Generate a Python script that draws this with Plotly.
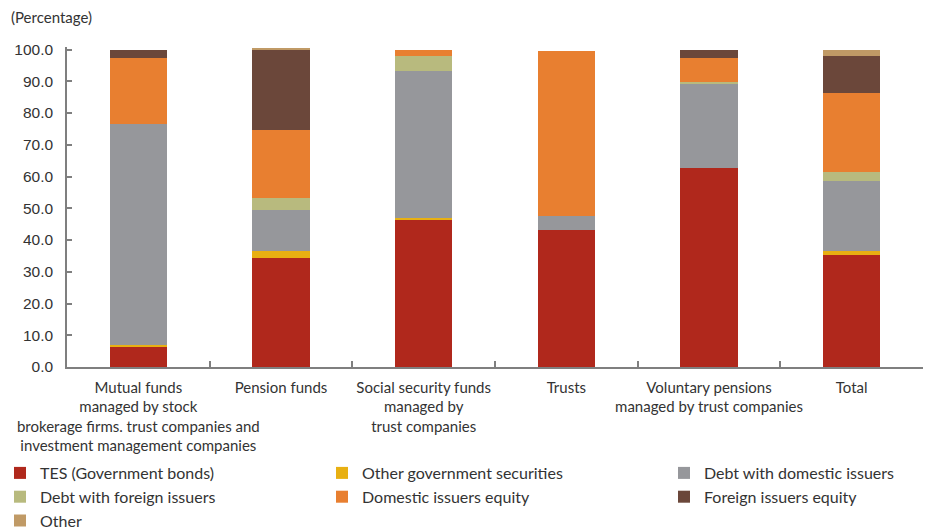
import plotly.graph_objects as go

categories = [
    "Mutual funds<br>managed by stock<br>brokerage firms. trust companies and<br>investment management companies",
    "Pension funds",
    "Social security funds<br>managed by<br>trust companies",
    "Trusts",
    "Voluntary pensions<br>managed by trust companies",
    "Total",
]

tes = [6.3, 34.4, 46.2, 43.3, 62.8, 35.2]
other_gov = [0.5, 2.1, 0.8, 0.0, 0.0, 1.4]
debt_domestic = [69.8, 13.1, 46.1, 4.4, 26.2, 21.9]
debt_foreign = [0.0, 3.5, 5.0, 0.0, 0.7, 3.0]
domestic_equity = [20.7, 21.4, 1.9, 51.7, 7.6, 24.8]
foreign_equity = [2.7, 25.5, 0.0, 0.0, 2.7, 11.6]
other = [0.0, 0.5, 0.0, 0.0, 0.0, 2.1]

series = [
    ("TES (Government bonds)", tes, "#B0281C", "legend"),
    ("Other government securities", other_gov, "#E8B012", "legend2"),
    ("Debt with domestic issuers", debt_domestic, "#96979B", "legend3"),
    ("Debt with foreign issuers", debt_foreign, "#B8BA7E", "legend"),
    ("Domestic issuers equity", domestic_equity, "#E87F30", "legend2"),
    ("Foreign issuers equity", foreign_equity, "#6B473A", "legend3"),
    ("Other", other, "#C09A66", "legend"),
]

FONT = "Lato, Liberation Sans, sans-serif"
TXT = "#333333"

fig = go.Figure()
for name, vals, color, leg in series:
    fig.add_trace(go.Bar(
        x=categories, y=vals, name=name, marker=dict(color=color, line=dict(width=0)),
        legend=leg,
    ))

legend_common = dict(
    orientation="v", yanchor="top", xanchor="left",
    font=dict(family=FONT, size=16, color=TXT), bgcolor="rgba(0,0,0,0)",
    tracegroupgap=0, itemwidth=30, traceorder="normal",
)

PLOT_H = 320
leg_y = -(456 - (531 - 164)) / PLOT_H

fig.update_layout(
    width=928, height=531,
    margin=dict(l=67, r=5, t=47, b=164, autoexpand=False),
    paper_bgcolor="white", plot_bgcolor="white",
    barmode="stack", bargap=0.6,
    font=dict(family=FONT, size=15, color=TXT),
    legend=dict(x=-67 / 856, y=leg_y, **legend_common),
    legend2=dict(x=(322 - 67) / 856, y=leg_y, **legend_common),
    legend3=dict(x=(664 - 67) / 856, y=leg_y, **legend_common),
    xaxis=dict(
        showline=True, linecolor="#7f7f7f", linewidth=1.5,
        ticks="inside", ticklen=6, tickcolor="#7f7f7f", tickwidth=1.5,
        tickson="boundaries", showgrid=False, tickangle=0,
        ticklabelstandoff=6,
        tickfont=dict(family=FONT, size=15, color=TXT),
    ),
    yaxis=dict(
        range=[0, 100.8], tickvals=[0, 10, 20, 30, 40, 50, 60, 70, 80, 90, 100],
        tickformat=".1f",
        showline=True, linecolor="#7f7f7f", linewidth=1.5,
        ticks="inside", ticklen=5, tickcolor="#7f7f7f", tickwidth=1.5,
        showgrid=False, zeroline=False, ticklabelstandoff=9,
        tickfont=dict(family="Liberation Sans, sans-serif", size=15.5, color=TXT),
    ),
    annotations=[dict(
        text="(Percentage)", xref="paper", yref="paper", x=-58 / 856,
        y=1 + (47 - 17) / PLOT_H, xanchor="left", yanchor="middle", showarrow=False,
        font=dict(family=FONT, size=15, color=TXT),
    )],
)

fig.write_html("out.html")
